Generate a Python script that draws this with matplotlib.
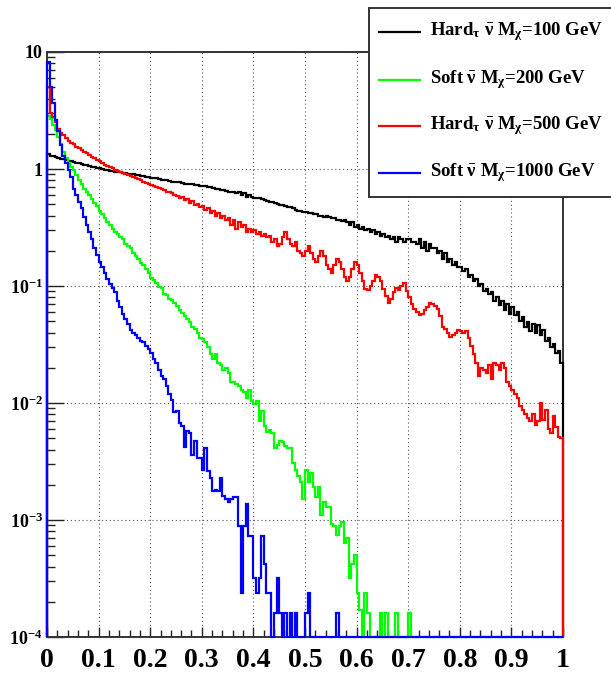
import numpy as np
import matplotlib
matplotlib.use("Agg")
import matplotlib.pyplot as plt
from matplotlib.patches import Rectangle
from matplotlib.lines import Line2D
from matplotlib.ticker import MultipleLocator, LogLocator, NullFormatter

plt.rcParams['font.family'] = ['Liberation Serif', 'DejaVu Serif']
plt.rcParams['font.weight'] = 'bold'
plt.rcParams['mathtext.fontset'] = 'custom'
plt.rcParams['mathtext.rm'] = 'Liberation Serif:bold'
plt.rcParams['mathtext.it'] = 'Liberation Serif:italic:bold'
plt.rcParams['mathtext.bf'] = 'Liberation Serif:bold'

# 200 bins on [0, 1], normalised entries per bin
edges = np.linspace(0.0, 1.0, 201)

hard_100 = [
    1.34, 1.30, 1.28, 1.26, 1.24, 1.22, 1.21, 1.19, 1.18, 1.16,
    1.15, 1.13, 1.12, 1.10, 1.09, 1.08, 1.06, 1.05, 1.04, 1.02,
    1.01, 1.00, 0.99, 0.98, 0.97, 0.96, 0.95, 0.95, 0.94, 0.93,
    0.92, 0.91, 0.90, 0.90, 0.89, 0.88, 0.87, 0.87, 0.86, 0.85,
    0.84, 0.84, 0.83, 0.82, 0.81, 0.81, 0.80, 0.79, 0.78, 0.78,
    0.77, 0.77, 0.76, 0.75, 0.75, 0.74, 0.74, 0.73, 0.73, 0.72,
    0.72, 0.71, 0.70, 0.70, 0.69, 0.68, 0.67, 0.66, 0.66, 0.65,
    0.64, 0.64, 0.63, 0.62, 0.63, 0.60, 0.62, 0.58, 0.60, 0.58,
    0.57, 0.56, 0.56, 0.55, 0.54, 0.53, 0.52, 0.52, 0.51, 0.50,
    0.49, 0.49, 0.48, 0.47, 0.47, 0.46, 0.45, 0.44, 0.44, 0.43,
    0.43, 0.42, 0.42, 0.41, 0.41, 0.40, 0.40, 0.39, 0.40, 0.39,
    0.38, 0.38, 0.37, 0.37, 0.36, 0.37, 0.35, 0.33, 0.35, 0.32,
    0.33, 0.31, 0.32, 0.30, 0.31, 0.29, 0.30, 0.28, 0.29, 0.27,
    0.28, 0.26, 0.27, 0.25, 0.26, 0.24, 0.26, 0.25, 0.24, 0.25,
    0.25, 0.24, 0.24, 0.23, 0.25, 0.21, 0.24, 0.20, 0.23, 0.21,
    0.21, 0.19, 0.20, 0.17, 0.19, 0.16, 0.17, 0.15, 0.16, 0.145,
    0.145, 0.135, 0.14, 0.12, 0.125, 0.11, 0.115, 0.10, 0.105, 0.09,
    0.095, 0.085, 0.088, 0.075, 0.08, 0.069, 0.074, 0.062, 0.07, 0.058,
    0.066, 0.056, 0.060, 0.050, 0.054, 0.045, 0.049, 0.041, 0.047, 0.040,
    0.046, 0.038, 0.042, 0.034, 0.036, 0.030, 0.032, 0.027, 0.028, 0.022,
]

soft_200 = [
    2.84, 2.70, 2.40, 2.15, 1.88, 1.62, 1.40, 1.25, 1.12, 1.05,
    0.98, 0.88, 0.80, 0.74, 0.68, 0.64, 0.60, 0.55, 0.51, 0.48,
    0.44, 0.41, 0.38, 0.35, 0.33, 0.31, 0.29, 0.28, 0.26, 0.25,
    0.23, 0.22, 0.21, 0.19, 0.18, 0.17, 0.158, 0.15, 0.14, 0.128,
    0.117, 0.112, 0.106, 0.098, 0.096, 0.086, 0.084, 0.078, 0.076, 0.072,
    0.068, 0.062, 0.059, 0.055, 0.052, 0.049, 0.045, 0.043, 0.040, 0.036,
    0.035, 0.033, 0.030, 0.026, 0.024, 0.026, 0.022, 0.021, 0.019, 0.020,
    0.018, 0.015, 0.015, 0.0146, 0.014, 0.013, 0.0125, 0.011, 0.013, 0.0105,
    0.0098, 0.0105, 0.0070, 0.0086, 0.0063, 0.0057, 0.0059, 0.0055, 0.0041, 0.0044,
    0.0047, 0.0046, 0.0043, 0.0041, 0.0041, 0.0031, 0.0027, 0.0024, 0.0021, 0.0015,
    0.0027, 0.0021, 0.0025, 0.0019, 0.00157, 0.0019, 0.0011, 0.00142, 0.00128, 0.00128,
    0.00093, 0.00089, 0.00075, 0.00088, 0.00096, 0.00063, 0.0007, 0.00032, 0.00042, 0.0005,
    0.00024, 0.00017, 0.0, 0.00024, 0.00016, 0.0, 0.0, 0.0, 0.0, 0.00016,
    0.0, 0.00016, 0.0, 0.0, 0.0, 0.00016, 0.0, 0.0, 0.0, 0.0,
    0.00016, 0.0, 0.0, 0.0, 0.0, 0.0, 0.0, 0.0, 0.0, 0.0,
] + [0.0] * 50

hard_500 = [
    5.0, 3.0, 2.8, 2.5, 2.2, 2.05, 1.95, 1.85, 1.75, 1.68,
    1.62, 1.55, 1.50, 1.45, 1.40, 1.36, 1.32, 1.27, 1.23, 1.20,
    1.16, 1.12, 1.09, 1.06, 1.03, 1.01, 0.99, 0.97, 0.95, 0.93,
    0.91, 0.89, 0.87, 0.85, 0.83, 0.82, 0.80, 0.78, 0.76, 0.75,
    0.73, 0.72, 0.70, 0.69, 0.67, 0.66, 0.64, 0.63, 0.62, 0.60,
    0.59, 0.57, 0.58, 0.54, 0.55, 0.51, 0.53, 0.49, 0.50, 0.47,
    0.48, 0.45, 0.46, 0.42, 0.44, 0.40, 0.42, 0.38, 0.40, 0.37,
    0.38, 0.33, 0.37, 0.31, 0.35, 0.32, 0.33, 0.29, 0.31, 0.29,
    0.30, 0.28, 0.29, 0.27, 0.28, 0.26, 0.27, 0.24, 0.25, 0.22,
    0.23, 0.26, 0.29, 0.25, 0.23, 0.22, 0.24, 0.20, 0.19, 0.18,
    0.20, 0.22, 0.19, 0.17, 0.16, 0.18, 0.20, 0.18, 0.15, 0.14,
    0.13, 0.15, 0.17, 0.16, 0.14, 0.12, 0.11, 0.12, 0.14, 0.16,
    0.15, 0.13, 0.11, 0.095, 0.093, 0.10, 0.11, 0.125, 0.12, 0.11,
    0.095, 0.082, 0.072, 0.078, 0.088, 0.097, 0.092, 0.10, 0.107, 0.09,
    0.081, 0.070, 0.063, 0.060, 0.056, 0.058, 0.062, 0.066, 0.072, 0.070,
    0.067, 0.063, 0.055, 0.045, 0.043, 0.040, 0.037, 0.038, 0.040, 0.042,
    0.041, 0.040, 0.041, 0.036, 0.031, 0.026, 0.022, 0.017, 0.020, 0.019,
    0.018, 0.021, 0.016, 0.022, 0.021, 0.019, 0.022, 0.020, 0.015, 0.014,
    0.013, 0.012, 0.011, 0.0095, 0.0087, 0.0080, 0.0074, 0.0070, 0.0080, 0.0065,
    0.0070, 0.010, 0.0071, 0.0087, 0.0060, 0.0055, 0.0078, 0.0062, 0.0051, 0.0050,
]

soft_1000 = [
    8.2, 5.0, 3.7, 2.6, 2.1, 1.6, 1.3, 1.12, 0.98, 0.85,
    0.68, 0.60, 0.52, 0.46, 0.39, 0.33, 0.29, 0.25, 0.21, 0.185,
    0.16, 0.145, 0.13, 0.115, 0.105, 0.097, 0.088, 0.075, 0.066, 0.058,
    0.052, 0.047, 0.042, 0.040, 0.038, 0.036, 0.034, 0.033, 0.031, 0.029,
    0.027, 0.024, 0.022, 0.019, 0.017, 0.016, 0.014, 0.012, 0.0107, 0.0083,
    0.0085, 0.0068, 0.0064, 0.0042, 0.0058, 0.0055, 0.0036, 0.0047, 0.0034, 0.0034,
    0.0027, 0.0041, 0.0026, 0.0023, 0.00176, 0.0018, 0.00176, 0.0023, 0.0016, 0.0015,
    0.00142, 0.0015, 0.00157, 0.00157, 0.00088, 0.00024, 0.00088, 0.00137, 0.00073, 0.00073,
    0.00032, 0.00024, 0.00032, 0.00073, 0.00042, 0.00024, 0.00024, 0.0, 0.00016, 0.00032,
    0.00016, 0.0, 0.00016, 0.0, 0.00016, 0.0, 0.00016, 0.0, 0.0, 0.0,
    0.00016, 0.00024, 0.0, 0.0, 0.0, 0.0, 0.0, 0.0, 0.0, 0.0,
    0.0, 0.0, 0.00016, 0.0, 0.0, 0.0, 0.0, 0.0, 0.0, 0.0,
] + [0.0] * 80

labels = [
    r"Hard$_{\mathrm{\tau}}$ $\mathrm{\bar{\nu}}$ M$_{\mathrm{\chi}}$=100 GeV",
    r"Soft $\mathrm{\bar{\nu}}$ M$_{\mathrm{\chi}}$=200 GeV",
    r"Hard$_{\mathrm{\tau}}$ $\mathrm{\bar{\nu}}$ M$_{\mathrm{\chi}}$=500 GeV",
    r"Soft $\mathrm{\bar{\nu}}$ M$_{\mathrm{\chi}}$=1000 GeV",
]
colors = ["#000000", "#00ff00", "#ff0000", "#0000ff"]
series = [hard_100, soft_200, hard_500, soft_1000]

ymin, ymax = 1e-4, 10.0

fig = plt.figure(figsize=(6.11, 6.74), dpi=100)
ax = fig.add_axes([47 / 611, 37 / 674, 516 / 611, 585 / 674])

for vals, color in zip(series, colors):
    # empty bins sit on the lower edge, like ROOT does on a log axis
    ax.stairs(np.clip(vals, ymin, None), edges, baseline=ymin,
              color=color, lw=1.6, zorder=3, clip_on=False)

ax.set_yscale("log")
ax.set_xlim(0, 1)
ax.set_ylim(ymin, ymax)

xt = np.round(np.arange(0, 1.01, 0.1), 1)
ax.set_xticks(xt, ["0"] + [f"{v:.1f}" for v in xt[1:-1]] + ["1"])
ax.xaxis.set_minor_locator(MultipleLocator(0.02))
yt = [1e-4, 1e-3, 1e-2, 1e-1, 1, 10]
ax.set_yticks(yt, [r"$10^{-4}$", r"$10^{-3}$", r"$10^{-2}$", r"$10^{-1}$", "1", "10"])
ax.yaxis.set_minor_locator(LogLocator(base=10, subs=np.arange(2, 10)))
ax.yaxis.set_minor_formatter(NullFormatter())

ax.tick_params(which="both", direction="in", top=False, right=False, color="#222222")
ax.xaxis.set_tick_params(which="major", length=7, width=1.0, pad=8, labelsize=20)
ax.xaxis.set_tick_params(which="minor", length=5, width=1.0)
ax.yaxis.set_tick_params(which="major", length=12, width=1.0, pad=3, labelsize=13)
ax.yaxis.set_tick_params(which="minor", length=6, width=1.0)

for sp in ax.spines.values():
    sp.set_color("#333333")
    sp.set_linewidth(1.4)

ax.grid(True, which="major", color="#555555", ls=(0, (1, 2.5)), lw=0.8)

# legend box, drawn by hand so it can run off the right edge
fig.add_artist(Rectangle((369 / 611, 1 - 197 / 674), 0.45, 189 / 674,
                         transform=fig.transFigure, facecolor="white",
                         edgecolor="#333333", lw=1.4, zorder=10))
rows = [32, 80, 126, 173]
for row, lab, color in zip(rows, labels, colors):
    y = 1 - row / 674
    fig.add_artist(Line2D([379 / 611, 420 / 611], [y, y], transform=fig.transFigure,
                          color=color, lw=1.6, zorder=11))
    fig.text(430 / 611, y, lab, fontsize=13.5, fontweight="bold",
             ha="left", va="center", zorder=11)

fig.savefig("out.png", dpi=100)
